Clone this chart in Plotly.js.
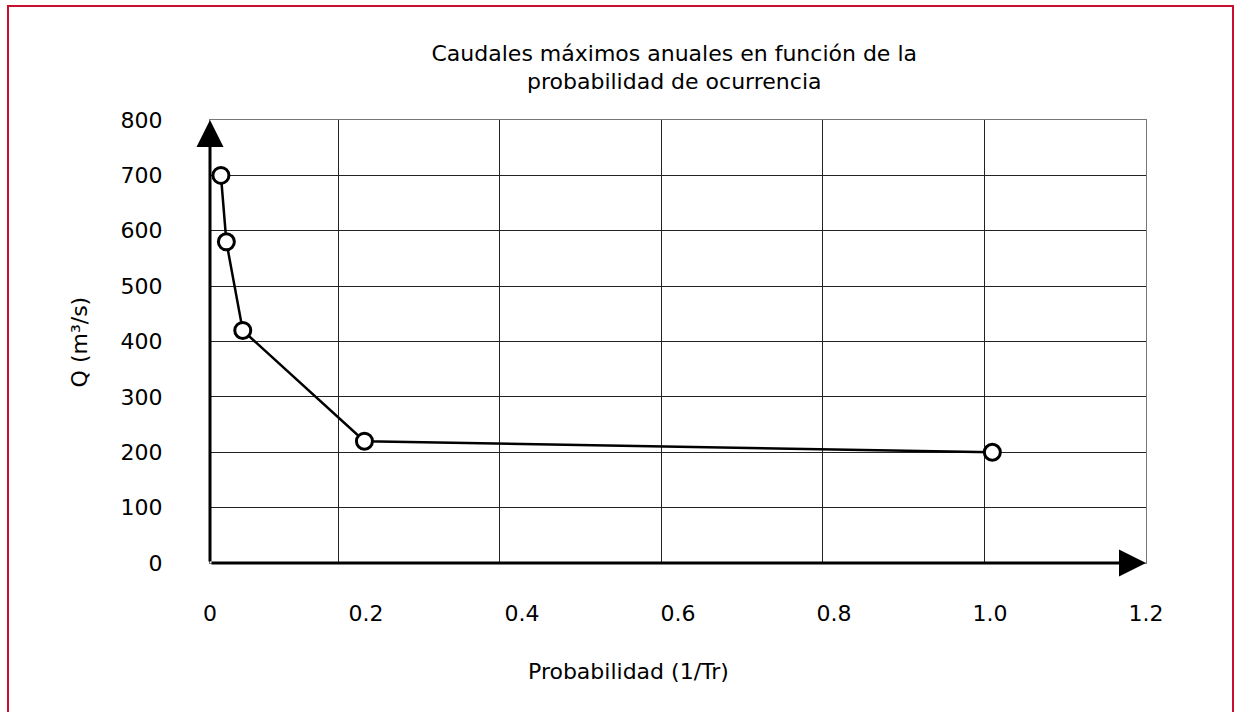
<!DOCTYPE html>
<html>
<head>
<meta charset="utf-8">
<script src="https://cdn.plot.ly/plotly-3.0.1.min.js"></script>
<style>
  body { margin: 0; background: #fff; }
  #wrap { position: relative; width: 1237px; height: 712px; }
  #frame {
    position: absolute; left: 7px; top: 5px; width: 1223px; height: 720px;
    border-top: 2px solid #c8102e; border-left: 2px solid #c8102e; border-right: 2px solid #c8102e;
    pointer-events: none;
  }
  #plot { width: 1237px; height: 712px; }
</style>
</head>
<body>
<div id="wrap">
  <div id="plot"></div>
  <div id="frame"></div>
</div>
<script>
// Probabilidad (1/Tr) y caudal máximo anual
const prob = [0.014, 0.021, 0.042, 0.198, 1.003];
const caudal = [700, 580, 420, 220, 200];

const xTicks = [0, 0.2, 0.4, 0.6, 0.8, 1.0, 1.2];
const xTickText = ['0', '0.2', '0.4', '0.6', '0.8', '1.0', '1.2'];
const yTicks = [0, 100, 200, 300, 400, 500, 600, 700, 800];

const fontFam = "'DejaVu Sans', sans-serif";
const txtColor = '#000';

const trace = {
    x: prob,
    y: caudal,
    type: 'scatter',
    mode: 'lines+markers',
    line: { color: '#000', width: 2.5 },
    marker: { size: 16, color: '#fff', line: { color: '#000', width: 3 } },
    cliponaxis: false,
    hoverinfo: 'x+y'
};

// la cuadrícula vertical del original no coincide con las etiquetas
const gridTrace = {
    x: [0, 1.2], y: [0, 0], xaxis: 'x2', yaxis: 'y',
    mode: 'none', type: 'scatter', hoverinfo: 'skip', showlegend: false
};

const layout = {
    width: 1237,
    height: 712,
    margin: { l: 210, r: 91, t: 120, b: 149 },
    paper_bgcolor: '#fff',
    plot_bgcolor: '#fff',
    showlegend: false,
    font: { family: fontFam, size: 22, color: txtColor },
    title: {
        text: 'Caudales máximos anuales en función de la<br>probabilidad de ocurrencia',
        font: { family: fontFam, size: 22, color: txtColor },
        xref: 'paper', x: 0.496, xanchor: 'center',
        yref: 'container', y: 0.915, yanchor: 'middle'
    },
    xaxis: {
        range: [0, 1.2],
        tickmode: 'array',
        tickvals: xTicks,
        ticktext: xTickText,
        showgrid: false,
        zeroline: false,
        ticks: 'outside',
        ticklen: 31,
        tickcolor: 'rgba(0,0,0,0)',
        showline: true,
        mirror: true,
        linecolor: '#777',
        linewidth: 1,
        tickfont: { family: fontFam, size: 22, color: txtColor },
        fixedrange: true
    },
    xaxis2: {
        overlaying: 'x',
        range: [0, 1.2],
        tick0: 0.1641,
        dtick: 0.2072,
        showgrid: true,
        gridcolor: '#222',
        gridwidth: 1,
        zeroline: false,
        showticklabels: false,
        ticks: '',
        fixedrange: true
    },
    yaxis: {
        range: [0, 800],
        tickmode: 'array',
        tickvals: yTicks,
        showgrid: true,
        gridcolor: '#222',
        gridwidth: 1,
        zeroline: false,
        ticks: 'outside',
        ticklen: 42,
        tickcolor: 'rgba(0,0,0,0)',
        showline: true,
        mirror: true,
        linecolor: '#777',
        linewidth: 1,
        tickfont: { family: fontFam, size: 22, color: txtColor },
        fixedrange: true
    },
    annotations: [
        // eje vertical con flecha
        {
            x: 0, y: 800, ax: 0, ay: 0, xref: 'x', yref: 'y', axref: 'x', ayref: 'y',
            showarrow: true, arrowhead: 2, arrowsize: 1.8, arrowwidth: 3, arrowcolor: '#000',
            standoff: 0, text: ''
        },
        // eje horizontal con flecha
        {
            x: 1.2, y: 0, ax: 0, ay: 0, xref: 'x', yref: 'y', axref: 'x', ayref: 'y',
            showarrow: true, arrowhead: 2, arrowsize: 1.8, arrowwidth: 3, arrowcolor: '#000',
            standoff: 0, text: ''
        },
        {
            text: 'Probabilidad (1/Tr)',
            xref: 'paper', yref: 'paper', x: 0.447, y: -0.246,
            xanchor: 'center', yanchor: 'middle', showarrow: false,
            font: { family: fontFam, size: 22, color: txtColor }
        },
        {
            text: 'Q (m³/s)',
            xref: 'paper', yref: 'paper', x: -0.139, y: 0.5,
            xanchor: 'center', yanchor: 'middle', textangle: -90, showarrow: false,
            font: { family: fontFam, size: 22, color: txtColor }
        }
    ]
};

Plotly.newPlot('plot', [gridTrace, trace], layout, { displayModeBar: false, staticPlot: true });
</script>
</body>
</html>
